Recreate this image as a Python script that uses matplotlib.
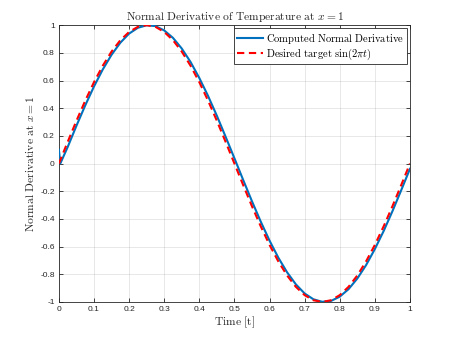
#!/usr/bin/env python3
"""Normal derivative of temperature at x = 1 versus the target sin(2*pi*t)."""

import matplotlib
matplotlib.use("Agg")
import matplotlib.pyplot as plt

# values
t_target = [0.0, 0.025, 0.05, 0.075, 0.1, 0.125, 0.15, 0.175, 0.2, 0.225,
            0.25, 0.275, 0.3, 0.325, 0.35, 0.375, 0.4, 0.425, 0.45, 0.475,
            0.5, 0.525, 0.55, 0.575, 0.6, 0.625, 0.65, 0.675, 0.7, 0.725,
            0.75, 0.775, 0.8, 0.825, 0.85, 0.875, 0.9, 0.925, 0.95, 0.975, 1.0]
target = [0.0, 0.156, 0.309, 0.454, 0.588, 0.707, 0.809, 0.891, 0.951, 0.988,
          1.0, 0.988, 0.951, 0.891, 0.809, 0.707, 0.588, 0.454, 0.309, 0.156,
          0.0, -0.156, -0.309, -0.454, -0.588, -0.707, -0.809, -0.891, -0.951, -0.988,
          -1.0, -0.988, -0.951, -0.891, -0.809, -0.707, -0.588, -0.454, -0.309, -0.156, 0.0]

t_computed = [0.0, 0.004, 0.025, 0.05, 0.075, 0.1, 0.125, 0.15, 0.175, 0.2, 0.225,
              0.25, 0.275, 0.3, 0.325, 0.35, 0.375, 0.4, 0.425, 0.45, 0.475,
              0.5, 0.525, 0.55, 0.575, 0.6, 0.625, 0.65, 0.675, 0.7, 0.725,
              0.75, 0.775, 0.8, 0.825, 0.85, 0.875, 0.9, 0.925, 0.95, 0.975, 1.0]
computed = [0.10, 0.0, 0.119, 0.273, 0.420, 0.557, 0.680, 0.786, 0.873, 0.939, 0.981,
            0.999, 0.993, 0.962, 0.908, 0.831, 0.734, 0.618, 0.488, 0.345, 0.193,
            0.038, -0.119, -0.273, -0.420, -0.557, -0.680, -0.786, -0.873, -0.939, -0.981,
            -0.999, -0.993, -0.962, -0.908, -0.831, -0.734, -0.618, -0.488, -0.345, -0.193, -0.038]

x_ticks = [0, 0.1, 0.2, 0.3, 0.4, 0.5, 0.6, 0.7, 0.8, 0.9, 1]
x_labels = ["0", "0.1", "0.2", "0.3", "0.4", "0.5", "0.6", "0.7", "0.8", "0.9", "1"]
y_ticks = [-1, -0.8, -0.6, -0.4, -0.2, 0, 0.2, 0.4, 0.6, 0.8, 1]
y_labels = ["-1", "-0.8", "-0.6", "-0.4", "-0.2", "0", "0.2", "0.4", "0.6", "0.8", "1"]

plt.rcParams["mathtext.fontset"] = "cm"
plt.rcParams["font.family"] = ["Liberation Sans", "DejaVu Sans"]

DARK = "#262626"


def tex(s):
    # plain words in Computer Modern, like MATLAB's latex interpreter
    return r"$\mathrm{" + s.replace(" ", r"\ ") + "}$"


fig = plt.figure(figsize=(4.53, 3.40), dpi=100)
ax = fig.add_axes([0.13, 0.112, 0.775, 0.814])

ax.plot(t_computed, computed, color="#0072BD", linewidth=1.5,
        label=tex("Computed Normal Derivative"), zorder=3)
ax.plot(t_target, target, color="#FF0000", linewidth=1.5, linestyle=(0, (3.5, 2.2)),
        label=r"$\mathrm{Desired\ target\ sin}(2\pi t)$", zorder=4)

ax.set_xlim(0, 1)
ax.set_ylim(-1, 1)
ax.set_xticks(x_ticks, x_labels)
ax.set_yticks(y_ticks, y_labels)
ax.tick_params(direction="in", length=3, width=0.6, labelsize=6,
               colors=DARK, top=True, right=True, pad=3)
ax.grid(True, color=DARK, alpha=0.12, linewidth=0.6)
for sp in ax.spines.values():
    sp.set_color(DARK)
    sp.set_linewidth(0.6)

ax.set_title(r"$\mathrm{Normal\ Derivative\ of\ Temperature\ at\ }x=1$",
             fontsize=8.3, pad=4, color=DARK)
ax.set_xlabel(tex("Time [t]"), fontsize=8.3, color=DARK, labelpad=1)
ax.set_ylabel(r"$\mathrm{Normal\ Derivative\ at\ }x=1$", fontsize=8.3,
              color=DARK, labelpad=2)

leg = ax.legend(loc="upper right", fontsize=7.6, fancybox=False, framealpha=1,
                edgecolor=DARK, handlelength=2.5, borderaxespad=0.3,
                borderpad=0.25, labelspacing=0.05, handletextpad=0.3)
leg.get_frame().set_linewidth(0.6)

fig.savefig("out.png", dpi=100)
